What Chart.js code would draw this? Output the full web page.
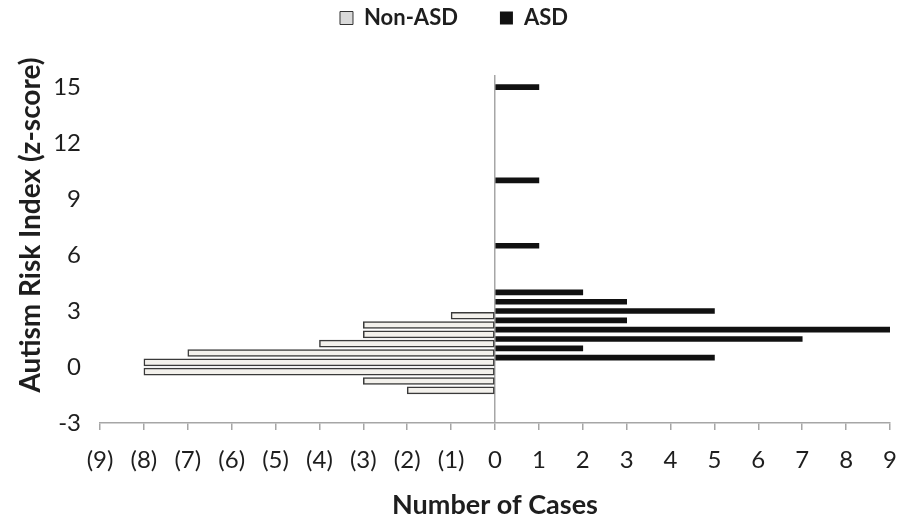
<!DOCTYPE html>
<html>
<head>
<meta charset="utf-8">
<script src="https://cdn.jsdelivr.net/npm/chart.js@4.4.0/dist/chart.umd.min.js"></script>
<style>
  html, body { margin: 0; padding: 0; background: #fff; }
  #wrap { width: 898px; height: 522px; }
</style>
</head>
<body>
<div id="wrap"><canvas id="riskChart" width="898" height="522"></canvas></div>
<script>
// z-score bins (bar positions) and case counts
const nonAsdZ = [2.75, 2.25, 1.75, 1.25, 0.75, 0.25, -0.25, -0.75, -1.25];
const nonAsdCases = [1, 3, 3, 4, 7, 8, 8, 3, 2];
const asdZ = [15, 10, 6.5, 4, 3.5, 3, 2.5, 2, 1.5, 1, 0.5];
const asdCases = [1, 1, 1, 2, 3, 5, 3, 9, 7, 2, 5];
const yTicks = [-3, 0, 3, 6, 9, 12, 15];
const xTicks = [-9, -8, -7, -6, -5, -4, -3, -2, -1, 0, 1, 2, 3, 4, 5, 6, 7, 8, 9];

const fontFamily = 'Lato, "Open Sans", sans-serif';
const axisGray = '#a6a6a6';
const textColor = '#1e1e1e';

// Non-ASD counts go to the left side
const nonAsdData = nonAsdZ.map((z, i) => ({ x: -nonAsdCases[i], y: z }));
const asdData = asdZ.map((z, i) => ({ x: asdCases[i], y: z }));

// legend: fixed block height above the plot, items drawn near the top edge
const legendTweak = {
    id: 'legendTweak',
    beforeInit(chart) {
        const legend = chart.legend;
        const fit = legend.fit;
        legend.fit = function() {
            fit.bind(legend)();
            this.height = 75;
        };
        const draw = legend.draw;
        legend.draw = function() {
            const c = chart.ctx;
            c.save();
            c.translate(5, -35);
            draw.bind(legend)();
            c.restore();
        };
    }
};

const ctx = document.getElementById('riskChart').getContext('2d');
new Chart(ctx, {
    type: 'bar',
    data: {
        datasets: [{
            label: 'Non-ASD',
            data: nonAsdData,
            backgroundColor: '#f3f1ec',
            borderColor: '#3a3a3a',
            borderWidth: 1.5,
            borderSkipped: false,
            barThickness: 7
        }, {
            label: 'ASD',
            data: asdData,
            backgroundColor: '#111111',
            borderWidth: 0,
            barThickness: 5
        }]
    },
    options: {
        indexAxis: 'y',
        responsive: false,
        animation: false,
        grouped: false,
        layout: { padding: { left: 0, right: 0, top: 0, bottom: 0 } },
        plugins: {
            tooltip: { enabled: false },
            legend: {
                position: 'top',
                labels: {
                    color: textColor,
                    font: { family: fontFamily, size: 22, weight: 'bold' },
                    boxWidth: 13,
                    boxHeight: 13,
                    padding: 42,
                    generateLabels: function(chart) {
                        const items = Chart.defaults.plugins.legend.labels.generateLabels(chart);
                        items[0].fillStyle = '#d9d9d9';
                        items[0].strokeStyle = '#333333';
                        items[0].lineWidth = 1;
                        return items;
                    }
                }
            }
        },
        scales: {
            x: {
                type: 'linear',
                min: -9,
                max: 9,
                afterBuildTicks: function(scale) {
                    scale.ticks = xTicks.map(v => ({ value: v }));
                },
                afterFit: function(scale) {
                    scale.height = 99;
                    scale.paddingRight = 8;
                },
                ticks: {
                    color: textColor,
                    font: { family: fontFamily, size: 24 },
                    padding: 16,
                    maxRotation: 0,
                    autoSkip: false,
                    callback: function(value) {
                        return value < 0 ? '(' + (-value) + ')' : String(value);
                    }
                },
                grid: {
                    color: c => (c.tick && c.tick.value === 0 ? axisGray : 'transparent'),
                    lineWidth: 1.5,
                    tickColor: axisGray,
                    tickLength: 7
                },
                border: { display: true, color: axisGray, width: 1.5 },
                title: {
                    display: true,
                    text: 'Number of Cases',
                    color: textColor,
                    font: { family: fontFamily, size: 27, weight: 'bold' },
                    padding: { top: 10, bottom: 1 }
                }
            },
            y: {
                type: 'linear',
                min: -3,
                max: 15.65,
                offset: false,
                afterBuildTicks: function(scale) {
                    scale.ticks = yTicks.map(v => ({ value: v }));
                },
                afterFit: function(scale) {
                    scale.width = 100;
                    // title sits a little above the middle of the axis
                    const drawTitle = scale.drawTitle;
                    scale.drawTitle = function() {
                        const c = scale.ctx;
                        c.save();
                        c.translate(0, -12);
                        drawTitle.call(scale);
                        c.restore();
                    };
                },
                ticks: {
                    color: textColor,
                    font: { family: fontFamily, size: 24 },
                    padding: 19
                },
                grid: { display: false, drawTicks: false },
                border: { display: false },
                title: {
                    display: true,
                    text: 'Autism Risk Index (z-score)',
                    color: textColor,
                    font: { family: fontFamily, size: 28, weight: 'bold' },
                    padding: { top: 14, bottom: 0 }
                }
            }
        }
    },
    plugins: [legendTweak]
});
</script>
</body>
</html>
